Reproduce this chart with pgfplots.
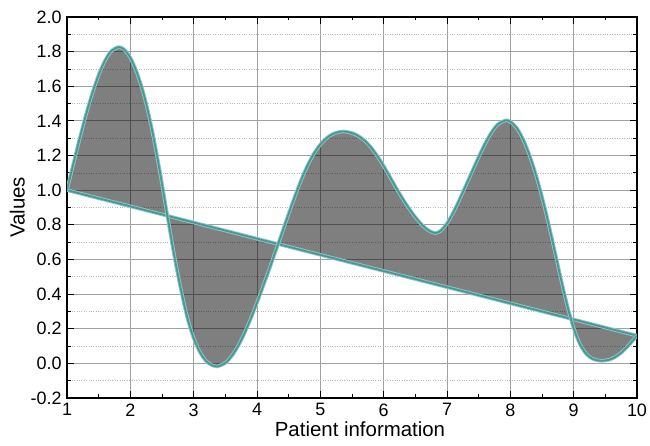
\documentclass[border=0pt]{standalone}
\usepackage{pgfplots}
\pgfplotsset{compat=1.18}
\usepgfplotslibrary{fillbetween}
\usepackage{fontspec}
\setmainfont{Liberation Sans}
\definecolor{tealcore}{RGB}{72,152,150}
\definecolor{tealhalo}{RGB}{140,200,196}
\definecolor{gridgray}{RGB}{160,160,160}
\pgfplotstableread{
x y
1.0 1.0
1.1 1.151
1.2 1.298
1.3 1.436
1.4 1.560
1.5 1.665
1.6 1.748
1.7 1.804
1.816 1.826
1.9 1.813
2.0 1.765
2.1 1.683
2.2 1.569
2.3 1.422
2.4 1.242
2.5 1.037
2.6 0.819
2.7 0.609
2.8 0.424
2.9 0.264
3.0 0.146
3.1 0.064
3.2 0.012
3.3 -0.013
3.37 -0.018
3.5 0.002
3.6 0.042
3.7 0.099
3.8 0.172
3.9 0.257
4.0 0.350
4.1 0.449
4.2 0.550
4.3 0.654
4.4 0.759
4.5 0.864
4.6 0.966
4.7 1.061
4.8 1.144
4.9 1.212
5.0 1.264
5.1 1.301
5.2 1.325
5.35 1.339
5.5 1.330
5.6 1.313
5.7 1.286
5.8 1.247
5.9 1.197
6.0 1.140
6.1 1.076
6.2 1.012
6.3 0.951
6.4 0.895
6.5 0.845
6.6 0.802
6.7 0.770
6.81 0.752
6.9 0.766
7.0 0.808
7.1 0.872
7.2 0.948
7.3 1.029
7.4 1.111
7.5 1.192
7.6 1.268
7.7 1.332
7.8 1.379
7.926 1.403
8.0 1.395
8.1 1.360
8.2 1.295
8.3 1.205
8.4 1.094
8.5 0.962
8.6 0.812
8.7 0.650
8.8 0.487
8.9 0.333
9.0 0.203
9.1 0.110
9.2 0.054
9.3 0.026
9.4 0.016
9.45 0.015
9.55 0.020
9.65 0.035
9.75 0.061
9.85 0.097
9.95 0.138
10.0 0.16
}\curvedata
\pgfplotstableread{
x y
1 1.0
10 0.16
}\linedata
\begin{document}
\begin{tikzpicture}
\begin{axis}[
  scale only axis,
  width=570bp, height=381bp,
  xmin=1, xmax=10, ymin=-0.2, ymax=2.0,
  xtick={1,2,...,10},
  ytick={-0.2,0,0.2,0.4,0.6,0.8,1.0,1.2,1.4,1.6,1.8,2.0},
  minor x tick num=1, minor y tick num=1,
  xmajorgrids, ymajorgrids, yminorgrids, xminorgrids=false,
  major grid style={gridgray, line width=0.9bp},
  minor grid style={gray!55, dotted, line width=0.6bp},
  tick align=inside, tick pos=both,
  major tick length=7bp, minor tick length=3.5bp,
  every tick/.style={black, line width=0.9bp},
  axis line style={black, line width=1.1bp},
  y tick label style={xshift=-2bp, /pgf/number format/fixed, /pgf/number format/fixed zerofill, /pgf/number format/precision=1},
  x tick label style={yshift=-2bp},
  /pgf/number format/assume math mode=true,
  ticklabel style={font=\fontsize{18}{20}\selectfont},
  label style={font=\fontsize{20.5}{22}\selectfont},
  xlabel={Patient information},
  ylabel={Values},
  xlabel style={xshift=8bp, yshift=1bp},
  ylabel style={yshift=-1bp},
]
\addplot[draw=none, name path=curve, smooth, tension=0.5] table {\curvedata};
\addplot[draw=none, name path=line] table {\linedata};
\addplot[black, fill opacity=0.5, draw=none] fill between[of=curve and line];
\addplot[tealhalo, line width=3.6bp] table {\linedata};
\addplot[tealcore, line width=1.8bp] table {\linedata};
\addplot[tealhalo, line width=3.6bp, smooth, tension=0.5] table {\curvedata};
\addplot[tealcore, line width=1.8bp, smooth, tension=0.5] table {\curvedata};
\end{axis}
\pgfresetboundingbox
\path (-67bp,-48bp) rectangle (583bp,398bp);
\end{tikzpicture}
\end{document}
